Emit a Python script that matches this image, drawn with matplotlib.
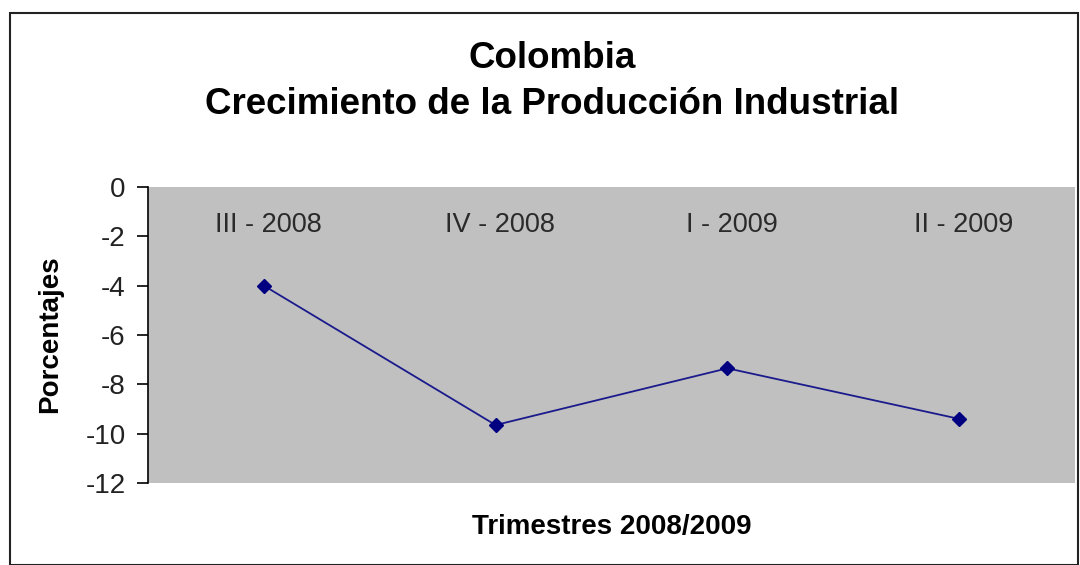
import matplotlib
matplotlib.use("Agg")
import matplotlib.pyplot as plt
from matplotlib.patches import Rectangle

categories = ["III - 2008", "IV - 2008", "I - 2009", "II - 2009"]
values = [-4.0, -9.65, -7.35, -9.4]
yticks = [0, -2, -4, -6, -8, -10, -12]

plt.rcParams['font.family'] = ['Liberation Sans', 'DejaVu Sans']

fig = plt.figure(figsize=(10.8, 5.65), dpi=100)
fig.patches.append(Rectangle((10/1080, 0), 1068/1080, (565-13)/565, transform=fig.transFigure,
                             fill=False, edgecolor='#222222', linewidth=1.5))

ax = fig.add_axes([148/1080, (565-483)/565, (1075-148)/1080, (483-187)/565])
ax.set_facecolor('#C0C0C0')
x = [i + 0.5 for i in range(len(categories))]
ax.plot(x, values, color='#1a1a8c', linewidth=1.3, marker='D', markersize=7,
        markerfacecolor='#000080', markeredgecolor='#000080')
ax.set_xlim(0, len(categories))
ax.set_ylim(-12, 0)
ax.set_yticks(yticks)
ax.set_yticklabels([str(t) for t in yticks], fontsize=20, color='#222222')
ax.tick_params(axis='y', direction='out', length=8, width=1.2, pad=8)
ax.set_xticks([])
for s in ['top', 'right', 'bottom']:
    ax.spines[s].set_visible(False)
ax.spines['left'].set_linewidth(1.2)

for xi, lab in zip(x, categories):
    ax.text(xi + 0.02, -1.55, lab, ha='center', va='center', fontsize=19.5, color='#2a2a2a')

fig.text(50/1080, 1 - 334/565, 'Porcentajes', ha='center', va='center', rotation=90,
         fontsize=20, fontweight='bold')
fig.text(612/1080, 1 - 527/565, 'Trimestres 2008/2009', ha='center', va='center',
         fontsize=20, fontweight='bold')
fig.text(552/1080, 1 - 58/565, 'Colombia', ha='center', va='center', fontsize=26.5, fontweight='bold')
fig.text(552/1080, 1 - 104/565, 'Crecimiento de la Producción Industrial', ha='center', va='center',
         fontsize=26.5, fontweight='bold')

fig.savefig('out.png', dpi=100)
